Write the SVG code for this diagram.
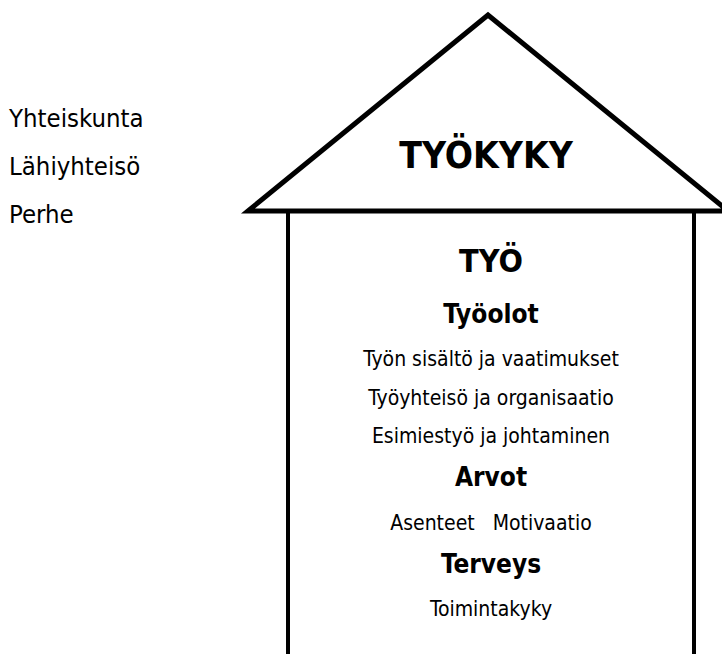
<svg xmlns="http://www.w3.org/2000/svg" width="722" height="654" viewBox="0 0 722 654">
<style>
text{font-family:"DejaVu Sans Condensed","DejaVu Sans",sans-serif;font-stretch:condensed;fill:#000}
.side{font-size:25.5px}
.body{font-size:21px;text-anchor:middle}
.h{font-weight:bold;text-anchor:middle}
.sub{font-size:26px}
.line{fill:none;stroke:#000;stroke-linejoin:miter}
</style>
<rect width="722" height="654" fill="#fff"/>
<g id="context">
<text class="side" x="9" y="127">Yhteiskunta</text>
<text class="side" x="9" y="175">Lähiyhteisö</text>
<text class="side" x="9" y="223">Perhe</text>
</g>
<g id="roof">
<polygon class="line" points="248,211 488,15 728,211" stroke-width="5"/>
<text class="h" x="486" y="168" font-size="37">TYÖKYKY</text>
</g>
<g id="walls">
<line class="line" x1="288" y1="213" x2="288" y2="660" stroke-width="4"/>
<line class="line" x1="694" y1="213" x2="694" y2="660" stroke-width="4"/>
</g>
<g id="tyo">
<text class="h" x="491" y="272" font-size="32">TYÖ</text>
<text class="h sub" x="491" y="323">Työolot</text>
<text class="body" x="491" y="366">Työn sisältö ja vaatimukset</text>
<text class="body" x="491" y="405">Työyhteisö ja organisaatio</text>
<text class="body" x="491" y="443">Esimiestyö ja johtaminen</text>
<text class="h sub" x="491" y="486">Arvot</text>
<text class="body" x="491" y="530" xml:space="preserve">Asenteet   Motivaatio</text>
<text class="h sub" x="491" y="573">Terveys</text>
<text class="body" x="491" y="616">Toimintakyky</text>
</g>
</svg>
